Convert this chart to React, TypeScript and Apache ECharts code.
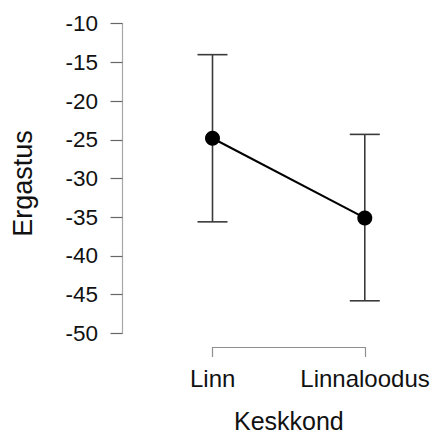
import React, { useEffect, useRef } from "react";
import * as echarts from "echarts";

const categories = ["Linn", "Linnaloodus"];
const means = [-24.8, -35.1];
const upper = [-14.0, -24.3];
const lower = [-35.6, -45.8];
const yTicks = { min: -50, max: -10, interval: 5 };
const yName = "Ergastus";
const xName = "Keskkond";

const FONT = "'Liberation Sans', Arial, Helvetica, sans-serif";

export default function App() {
  const ref = useRef<HTMLDivElement>(null);
  useEffect(() => {
    if (!ref.current) return;
    const chart = echarts.init(ref.current, null, { renderer: "svg" });
    const pts = categories.map((_, i) => [i, means[i]]);
    const bars = categories.map((_, i) => [i, lower[i], upper[i]]);
    chart.setOption({
      animation: false,
      backgroundColor: "#ffffff",
      grid: [
        { left: 122.5, top: 23.7, width: 303.2, height: 309.6 },
        { left: 212.7, top: 340, width: 152.3, height: 10 },
      ],
      xAxis: [
        { type: "value", gridIndex: 0, min: -0.591, max: 1.4, show: false },
        {
          type: "value",
          gridIndex: 1,
          min: 0,
          max: categories.length - 1,
          interval: 1,
          axisLine: { show: true, onZero: false, lineStyle: { color: "#8f8f8f", width: 1.2 } },
          axisTick: { show: true, length: 10, lineStyle: { color: "#8f8f8f", width: 1.2 } },
          splitLine: { show: false },
          axisLabel: {
            show: true,
            showMinLabel: true,
            showMaxLabel: true,
            margin: 19,
            color: "#111111",
            fontSize: 24,
            fontFamily: FONT,
            formatter: (v: number) => categories[Math.round(v)] ?? "",
          },
          name: xName,
          nameLocation: "middle",
          nameGap: 61,
          nameTextStyle: { color: "#111111", fontSize: 25, fontFamily: FONT },
        },
      ],
      yAxis: [
        {
          type: "value",
          gridIndex: 0,
          min: yTicks.min,
          max: yTicks.max,
          interval: yTicks.interval,
          axisLine: { show: true, onZero: false, lineStyle: { color: "#a8a8a8", width: 1.2 } },
          axisTick: { show: true, length: 12, lineStyle: { color: "#666666", width: 1.2 } },
          splitLine: { show: false },
          axisLabel: {
            margin: 24.5,
            color: "#111111",
            fontSize: 22.5,
            fontFamily: FONT,
          },
          name: yName,
          nameLocation: "middle",
          nameRotate: 90,
          nameGap: 86,
          nameTextStyle: { color: "#111111", fontSize: 27, fontFamily: FONT, padding: [0, 10, 0, 0] },
        },
        { type: "value", gridIndex: 1, show: false },
      ],
      series: [
        {
          type: "custom",
          xAxisIndex: 0,
          yAxisIndex: 0,
          data: bars,
          z: 1,
          renderItem: (params: any, api: any) => {
            const x = api.value(0);
            const lo = api.coord([x, api.value(1)]);
            const hi = api.coord([x, api.value(2)]);
            const cap = 15;
            const style = { stroke: "#3a3a3a", lineWidth: 1.6 };
            return {
              type: "group",
              children: [
                { type: "line", shape: { x1: lo[0], y1: lo[1], x2: hi[0], y2: hi[1] }, style },
                { type: "line", shape: { x1: hi[0] - cap, y1: hi[1], x2: hi[0] + cap, y2: hi[1] }, style },
                { type: "line", shape: { x1: lo[0] - cap, y1: lo[1], x2: lo[0] + cap, y2: lo[1] }, style },
              ],
            };
          },
        },
        {
          type: "line",
          xAxisIndex: 0,
          yAxisIndex: 0,
          data: pts,
          z: 3,
          symbol: "circle",
          symbolSize: 15,
          itemStyle: { color: "#000000" },
          lineStyle: { color: "#000000", width: 2 },
        },
      ],
    });
    return () => chart.dispose();
  }, []);
  return <div ref={ref} style={{ width: 434, height: 434, position: "absolute", left: 0, top: 0 }} />;
}
